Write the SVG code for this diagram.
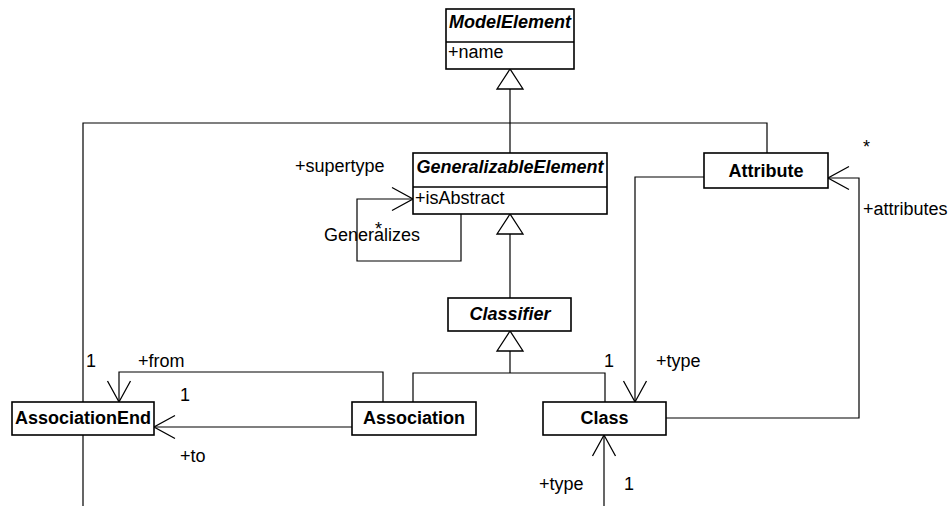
<svg xmlns="http://www.w3.org/2000/svg" width="948" height="506" viewBox="0 0 948 506">
  <style>
    text { font-family: "Liberation Sans", Arial, sans-serif; font-size: 18px; fill: #000; }
    .title { font-weight: bold; text-anchor: middle; }
    .abstract { font-style: italic; }
    .box { fill: #fff; stroke: #000; stroke-width: 1.6; }
    .edge { fill: none; stroke: #000; stroke-width: 1.2; }
    .gen { fill: #fff; stroke: #000; stroke-width: 1.3; }
  </style>
  <defs>
    <marker id="open-arrow" markerUnits="userSpaceOnUse" markerWidth="26" markerHeight="28" viewBox="-23 -14 26 28" refX="0" refY="0" orient="auto">
      <path d="M -21 -11.5 L 0 0 L -21 11.5" fill="none" stroke="#000" stroke-width="1.3"/>
    </marker>
  </defs>
  <rect width="948" height="506" fill="#fff"/>

  <!-- connectors -->
  <g id="connectors">
    <!-- generalization to ModelElement -->
    <path class="edge" d="M 510 89 L 510 153"/>
    <path class="edge" d="M 83 506 L 83 123 L 767 123 L 767 153"/>
    <polygon class="gen" points="510,69 497,89 523,89"/>
    <!-- generalization to GeneralizableElement -->
    <path class="edge" d="M 510 234 L 510 298"/>
    <polygon class="gen" points="510,214 497,234 523,234"/>
    <!-- generalization to Classifier -->
    <path class="edge" d="M 510 351 L 510 373 M 413 402 L 413 373 L 605 373 L 605 402"/>
    <polygon class="gen" points="510,331 497,351 523,351"/>
    <!-- Generalizes self association -->
    <path class="edge" d="M 461 214 L 461 261 L 357 261 L 357 199 L 413 199" marker-end="url(#open-arrow)"/>
    <!-- Association -> AssociationEnd (+from) -->
    <path class="edge" d="M 383 402 L 383 372 L 119 372 L 119 402" marker-end="url(#open-arrow)"/>
    <!-- Association -> AssociationEnd (+to) -->
    <path class="edge" d="M 352 427 L 154 427" marker-end="url(#open-arrow)"/>
    <!-- Attribute -> Class (+type) -->
    <path class="edge" d="M 704 177 L 635 177 L 635 402" marker-end="url(#open-arrow)"/>
    <!-- Class -> Attribute (+attributes) -->
    <path class="edge" d="M 666 418 L 859 418 L 859 178 L 828 178" marker-end="url(#open-arrow)"/>
    <!-- incoming +type to Class -->
    <path class="edge" d="M 604 506 L 604 435" marker-end="url(#open-arrow)"/>
  </g>

  <!-- connector labels -->
  <g id="labels">
    <text x="295" y="172">+supertype</text>
    <text x="324" y="241">Generalizes</text>
    <text x="375" y="235">*</text>
    <text x="863" y="153">*</text>
    <text x="863" y="215">+attributes</text>
    <text x="656" y="367">+type</text>
    <text x="604" y="367">1</text>
    <text x="86" y="367">1</text>
    <text x="138" y="367">+from</text>
    <text x="180" y="401">1</text>
    <text x="180" y="462">+to</text>
    <text x="539" y="490">+type</text>
    <text x="624" y="490">1</text>
  </g>

  <!-- classes -->
  <g id="ModelElement">
    <rect class="box" x="446" y="9" width="128" height="60"/>
    <line x1="446" y1="42" x2="574" y2="42" stroke="#000" stroke-width="1.6"/>
    <text class="title abstract" x="510" y="28">ModelElement</text>
    <text x="448" y="58">+name</text>
  </g>

  <g id="GeneralizableElement">
    <rect class="box" x="413" y="153" width="194" height="61"/>
    <line x1="413" y1="187" x2="607" y2="187" stroke="#000" stroke-width="1.6"/>
    <text class="title abstract" x="510" y="173">GeneralizableElement</text>
    <text x="415" y="204">+isAbstract</text>
  </g>

  <g id="Attribute">
    <rect class="box" x="704" y="153" width="124" height="35"/>
    <text class="title" x="766" y="177">Attribute</text>
  </g>

  <g id="Classifier">
    <rect class="box" x="448" y="298" width="123" height="33"/>
    <text class="title abstract" x="510" y="320">Classifier</text>
  </g>

  <g id="AssociationEnd">
    <rect class="box" x="12" y="402" width="142" height="33"/>
    <text class="title" x="83" y="424">AssociationEnd</text>
  </g>

  <g id="Association">
    <rect class="box" x="352" y="402" width="124" height="33"/>
    <text class="title" x="414" y="424">Association</text>
  </g>

  <g id="Class">
    <rect class="box" x="543" y="402" width="123" height="33"/>
    <text class="title" x="604.5" y="424">Class</text>
  </g>
</svg>
